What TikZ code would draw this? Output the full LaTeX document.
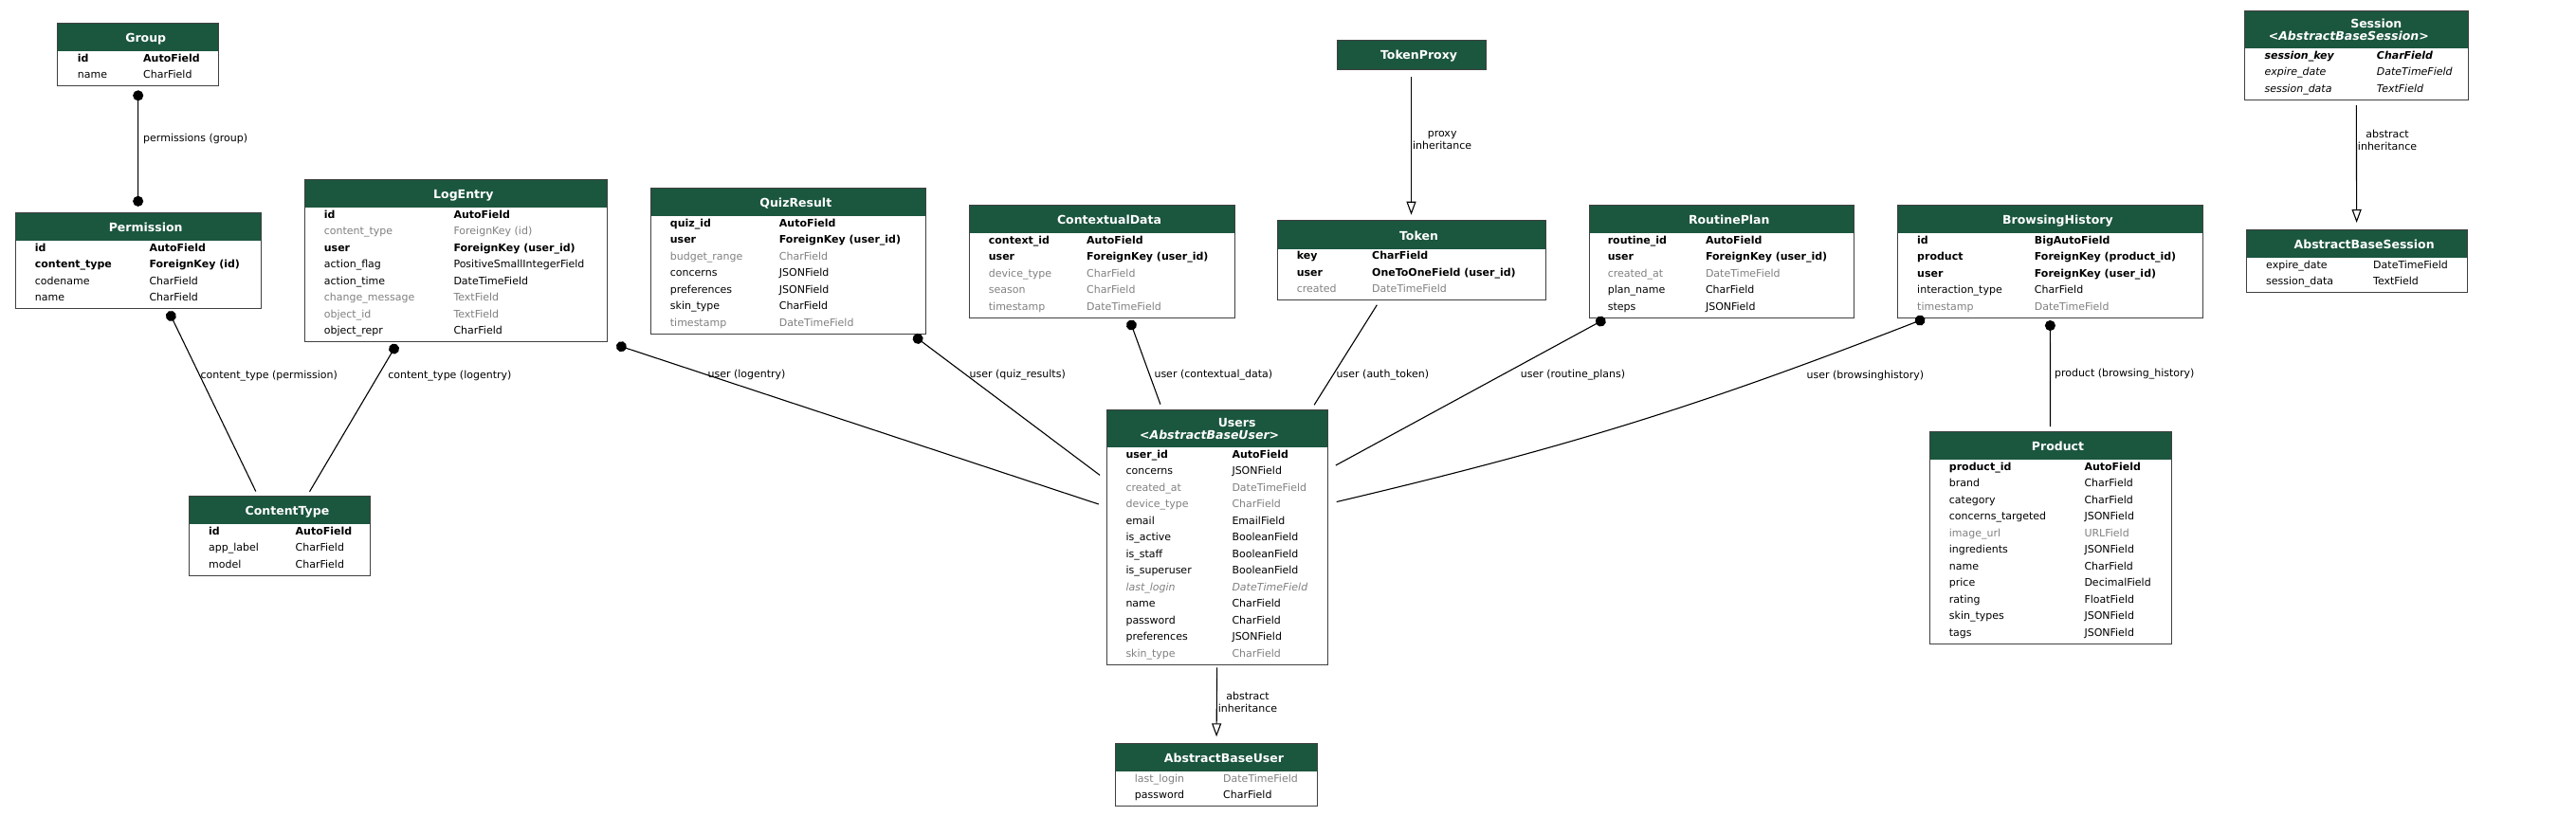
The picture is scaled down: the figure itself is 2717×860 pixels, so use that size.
\documentclass[tikz,border=0pt]{standalone}
\usepackage{fontspec}
\setmainfont{DejaVu Sans}
\usetikzlibrary{arrows.meta,calc}
\definecolor{headgreen}{HTML}{1B563F}
\definecolor{blankgray}{HTML}{808080}
\tikzset{
  headfill/.style={fill=headgreen, anchor=north west, inner sep=0pt, outer sep=0pt},
  modelframe/.style={draw=black!75, line width=1pt, anchor=north west, inner sep=0pt, outer sep=0pt},
  headtext/.style={anchor=base, text=white, inner sep=0pt, font=\fontsize{12.5}{14}\selectfont\bfseries},
  field/.style={anchor=base west, inner sep=0pt, font=\fontsize{11}{13}\selectfont},
  link/.style={line width=1.1pt},
  fk/.style={link, {Circle[length=11pt]}-, shorten <=3pt},
  mfk/.style={link, {Circle[length=11pt]}-{Circle[length=11pt]}},
  inherit/.style={link, -{Triangle[open, length=14pt, width=10pt]}},
  elabel/.style={anchor=west, inner sep=0pt, font=\fontsize{11}{13}\selectfont, align=center}
}
% field looks
\newcommand{\keyf}{\bfseries}
\newcommand{\plainf}{}
\newcommand{\blankf}{\color{blankgray}}
\newcommand{\absf}{\itshape}
\newcommand{\absblankf}{\itshape\color{blankgray}}
\newcommand{\abskeyf}{\bfseries\itshape}
% model box: #1 name, #2 left, #3 top, #4 width, #5 head height, #6 rows
\newcommand{\modelbox}[6]{%
  \node[headfill, minimum width=#4, minimum height=#5] (#1-head) at (#2,#3) {};
  \node[modelframe, minimum width=#4, minimum height={#5+17.5*#6+1.5*(#6>0)}] (#1) at (#2,#3) {};
}
% fields: #1 name, #2 first column, #3 second column, #4 look/field/type list
\newcommand{\modelfields}[4]{%
  \foreach \fstyle/\fname/\ftype [count=\i] in {#4} {
    \node[field] (#1-n\i) at ($(#2,0 |- #1-head.south)+(0,{11+17.5*(\i-1)})$) {\fstyle\fname};
    \node[field] (#1-t\i) at ($(#3,0 |- #1-head.south)+(0,{11+17.5*(\i-1)})$) {\fstyle\ftype};
  }%
}

\begin{document}
\begin{tikzpicture}[x=1pt, y=-1pt]
  \useasboundingbox (0,0) rectangle (2717,860);

  % auth and admin
  \modelbox{group}{60.7}{24.3}{170}{30}{2}
  \node[headtext] (group-title) at ([xshift=8pt, yshift=9.5pt]group-head.south) {Group};
  \modelfields{group}{81.7}{151}{\keyf/id/AutoField, \plainf/name/CharField}

  \modelbox{permission}{16}{224.3}{259.3}{30}{4}
  \node[headtext] (permission-title) at ([xshift=8pt, yshift=9.5pt]permission-head.south) {Permission};
  \modelfields{permission}{36.7}{157.3}{\keyf/id/AutoField, \keyf/content\_type/ForeignKey (id),
    \plainf/codename/CharField, \plainf/name/CharField}

  \modelbox{contenttype}{199.5}{523}{191}{30}{3}
  \node[headtext] (contenttype-title) at ([xshift=8pt, yshift=9.5pt]contenttype-head.south) {ContentType};
  \modelfields{contenttype}{220}{311.5}{\keyf/id/AutoField, \plainf/app\_label/CharField, \plainf/model/CharField}

  \modelbox{logentry}{321}{189.3}{319.7}{30}{8}
  \node[headtext] (logentry-title) at ([xshift=8pt, yshift=9.5pt]logentry-head.south) {LogEntry};
  \modelfields{logentry}{341.7}{478.3}{\keyf/id/AutoField, \blankf/content\_type/ForeignKey (id),
    \keyf/user/ForeignKey (user\_id), \plainf/action\_flag/PositiveSmallIntegerField,
    \plainf/action\_time/DateTimeField, \blankf/change\_message/TextField,
    \blankf/object\_id/TextField, \plainf/object\_repr/CharField}

  % app models
  \modelbox{quizresult}{686}{198.3}{290.7}{30}{7}
  \node[headtext] (quizresult-title) at ([xshift=8pt, yshift=9.5pt]quizresult-head.south) {QuizResult};
  \modelfields{quizresult}{706.7}{821.7}{\keyf/quiz\_id/AutoField, \keyf/user/ForeignKey (user\_id),
    \blankf/budget\_range/CharField, \plainf/concerns/JSONField, \plainf/preferences/JSONField,
    \plainf/skin\_type/CharField, \blankf/timestamp/DateTimeField}

  \modelbox{contextualdata}{1022}{216}{280}{30}{5}
  \node[headtext] (contextualdata-title) at ([xshift=8pt, yshift=9.5pt]contextualdata-head.south) {ContextualData};
  \modelfields{contextualdata}{1042.7}{1146}{\keyf/context\_id/AutoField, \keyf/user/ForeignKey (user\_id),
    \blankf/device\_type/CharField, \blankf/season/CharField, \blankf/timestamp/DateTimeField}

  \modelbox{tokenproxy}{1410}{42.3}{157}{31}{0}
  \node[headtext] (tokenproxy-title) at ([xshift=8pt, yshift=11pt]tokenproxy-head.south) {TokenProxy};

  \modelbox{token}{1347}{232.7}{283}{30}{3}
  \node[headtext] (token-title) at ([xshift=8pt, yshift=9.5pt]token-head.south) {Token};
  \modelfields{token}{1367.6}{1447}{\keyf/key/CharField, \keyf/user/OneToOneField (user\_id),
    \blankf/created/DateTimeField}

  \modelbox{users}{1167.3}{432.3}{232.7}{40}{13}
  \node[headtext] (users-title) at ([xshift=21pt, yshift=22pt]users-head.south) {Users};
  \node[headtext] (users-base) at ([xshift=-8pt, yshift=8.5pt]users-head.south) {\itshape <AbstractBaseUser>};
  \modelfields{users}{1187.3}{1299.3}{\keyf/user\_id/AutoField, \plainf/concerns/JSONField,
    \blankf/created\_at/DateTimeField, \blankf/device\_type/CharField, \plainf/email/EmailField,
    \plainf/is\_active/BooleanField, \plainf/is\_staff/BooleanField, \plainf/is\_superuser/BooleanField,
    \absblankf/last\_login/DateTimeField, \plainf/name/CharField, \plainf/password/CharField,
    \plainf/preferences/JSONField, \blankf/skin\_type/CharField}

  \modelbox{abstractbaseuser}{1176.7}{784.3}{212.6}{30}{2}
  \node[headtext] (abstractbaseuser-title) at ([xshift=8pt, yshift=9.5pt]abstractbaseuser-head.south) {AbstractBaseUser};
  \modelfields{abstractbaseuser}{1196.7}{1290}{\blankf/last\_login/DateTimeField, \plainf/password/CharField}

  \modelbox{routineplan}{1676.5}{216}{278.5}{30}{5}
  \node[headtext] (routineplan-title) at ([xshift=8pt, yshift=9.5pt]routineplan-head.south) {RoutinePlan};
  \modelfields{routineplan}{1695.6}{1798.8}{\keyf/routine\_id/AutoField, \keyf/user/ForeignKey (user\_id),
    \blankf/created\_at/DateTimeField, \plainf/plan\_name/CharField, \plainf/steps/JSONField}

  \modelbox{browsinghistory}{2001.3}{216}{322.2}{30}{5}
  \node[headtext] (browsinghistory-title) at ([xshift=8pt, yshift=9.5pt]browsinghistory-head.south) {BrowsingHistory};
  \modelfields{browsinghistory}{2022}{2145.7}{\keyf/id/BigAutoField, \keyf/product/ForeignKey (product\_id),
    \keyf/user/ForeignKey (user\_id), \plainf/interaction\_type/CharField, \blankf/timestamp/DateTimeField}

  \modelbox{product}{2035}{455}{255}{30}{11}
  \node[headtext] (product-title) at ([xshift=8pt, yshift=9.5pt]product-head.south) {Product};
  \modelfields{product}{2055.7}{2198.3}{\keyf/product\_id/AutoField, \plainf/brand/CharField,
    \plainf/category/CharField, \plainf/concerns\_targeted/JSONField, \blankf/image\_url/URLField,
    \plainf/ingredients/JSONField, \plainf/name/CharField, \plainf/price/DecimalField,
    \plainf/rating/FloatField, \plainf/skin\_types/JSONField, \plainf/tags/JSONField}

  % sessions
  \modelbox{session}{2367.3}{11}{236}{40}{3}
  \node[headtext] (session-title) at ([xshift=21pt, yshift=22pt]session-head.south) {Session};
  \node[headtext] (session-base) at ([xshift=-8pt, yshift=8.5pt]session-head.south) {\itshape <AbstractBaseSession>};
  \modelfields{session}{2388.3}{2506.7}{\abskeyf/session\_key/CharField, \absf/expire\_date/DateTimeField,
    \absf/session\_data/TextField}

  \modelbox{abstractbasesession}{2369}{242}{233.3}{30}{2}
  \node[headtext] (abstractbasesession-title) at ([xshift=8pt, yshift=9.5pt]abstractbasesession-head.south) {AbstractBaseSession};
  \modelfields{abstractbasesession}{2390}{2503}{\plainf/expire\_date/DateTimeField, \plainf/session\_data/TextField}

  % relations
  \draw[mfk, shorten <=4.5pt, shorten >=6.5pt] (group.south) -- (permission.north)
    node[elabel, pos=0.42, xshift=5pt] (l-group) {permissions (group)};
  \draw[fk, shorten >=5pt] ([xshift=31pt]permission.south) -- ([xshift=-23pt]contenttype.north)
    node[elabel, pos=0.36] (l-ctperm) {content\_type (permission)};
  \draw[fk, shorten >=5pt] ([xshift=-61pt]logentry.south) -- ([xshift=29pt]contenttype.north)
    node[elabel, pos=0.22, xshift=10pt] (l-ctlog) {content\_type (logentry)};

  \draw[fk, shorten <=10pt, shorten >=9pt] (logentry.south east) -- ([yshift=32pt]users.west)
    node[elabel, pos=0.2] (l-log) {user (logentry)};
  \draw[fk, shorten >=9pt] ([xshift=130pt]quizresult.south) -- ([yshift=60pt]users.west)
    node[elabel, pos=0.28, xshift=3pt] (l-quiz) {user (quiz\_results)};
  \draw[fk, shorten >=6pt] ([xshift=28.5pt]contextualdata.south) -- ([xshift=-57.7pt]users.north)
    node[elabel, pos=0.62, xshift=4.5pt] (l-ctx) {user (contextual\_data)};
  \draw[link, shorten <=6pt, shorten >=6pt] ([xshift=-33pt]token.south) -- ([xshift=99.3pt]users.north)
    node[elabel, pos=0.68, xshift=3pt] (l-token) {user (auth\_token)};
  \draw[fk, shorten >=10pt] ([xshift=-120pt]routineplan.south) -- ([yshift=71pt]users.east)
    node[elabel, pos=0.38, xshift=20pt] (l-plan) {user (routine\_plans)};
  \draw[fk, shorten >=10pt] ([xshift=-129.4pt]browsinghistory.south) to[bend left=4]
    node[elabel, pos=0.23, xshift=25pt, yshift=-4pt] (l-hist) {user (browsinghistory)} ([yshift=35pt]users.east);
  \draw[fk, shorten >=5pt] (browsinghistory.south) -- (product.north)
    node[elabel, pos=0.5, xshift=4pt] (l-prod) {product (browsing\_history)};

  % inheritance
  \draw[inherit, shorten <=8pt, shorten >=6pt] (tokenproxy.south) -- (token.north)
    node[elabel, pos=0.47, xshift=1pt] (l-proxy) {proxy\\inheritance};
  \draw[inherit, shorten <=3pt, shorten >=7pt] (users.south) -- (abstractbaseuser.north)
    node[elabel, pos=0.48, xshift=1pt] (l-abuser) {abstract\\inheritance};
  \draw[inherit, shorten <=6pt, shorten >=7pt] (session.south) -- (abstractbasesession.north)
    node[elabel, pos=0.31, xshift=1pt] (l-absess) {abstract\\inheritance};
\end{tikzpicture}
\end{document}
